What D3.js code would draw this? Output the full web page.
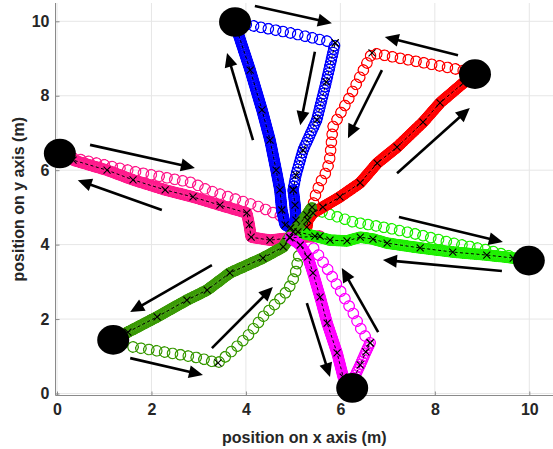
<!DOCTYPE html>
<html><head><meta charset="utf-8">
<script src="https://cdn.jsdelivr.net/npm/d3@7"></script>
<style>
body{margin:0;background:#fff}
svg{display:block}
text{font-family:"Liberation Sans",Arial,Helvetica,sans-serif;font-weight:bold;fill:#262626}
</style>
</head><body>
<svg id="c" width="553" height="449"></svg>
<script>
// ---- data (metres) ----
const xTicks = [0, 2, 4, 6, 8, 10];
const yTicks = [0, 2, 4, 6, 8, 10];
const xLabel = "position on x axis (m)";
const yLabel = "position on y axis (m)";

const seriesNames = ["blue", "red", "pink", "lime", "darkgreen", "magenta"];
const seriesColors = ["#0000ff", "#ff0000", "#ff1a8c", "#1ef000", "#3a9a05", "#ff00ff"];

const blueDense = [[3.81,9.77],[4.09,8.69],[4.34,7.62],[4.51,6.81],[4.64,6.00],[4.72,5.47],[4.76,4.93],[4.83,4.53],[4.95,4.45],[5.06,4.66],[5.04,5.06],[5.00,5.47]];
const blueMedium = [[5.00,5.47],[5.06,5.87],[5.21,6.54],[5.50,7.35],[5.70,8.37],[5.89,9.42]];
const blueSparse = [[3.85,9.95],[4.93,9.69],[5.85,9.43]];

const redDense = [[8.85,8.58],[8.60,8.34],[8.11,7.81],[7.75,7.29],[7.20,6.62],[6.78,6.19],[6.42,5.66],[5.99,5.28],[5.63,5.01],[5.42,4.85],[5.31,4.66],[5.29,4.47]];
const redSparse = [[8.60,8.68],[7.58,8.93],[6.67,9.15],[6.20,7.97],[5.84,7.16],[5.78,6.35],[5.72,6.00],[5.57,5.66],[5.46,5.28],[5.40,4.93]];

const pinkDense = [[0.06,6.45],[0.34,6.27],[1.06,6.00],[1.61,5.74],[2.29,5.47],[2.88,5.28],[3.45,5.06],[4.02,4.85],[4.07,4.53],[4.11,4.20],[4.51,4.12],[4.93,4.18],[5.57,4.23]];
const pinkSparse = [[0.34,6.33],[1.69,5.95],[2.88,5.66],[3.18,5.47],[4.30,5.01],[4.83,4.72]];

const limeDense = [[5.10,4.34],[5.46,4.23],[5.78,4.12],[6.14,4.10],[6.42,4.20],[6.69,4.15],[6.99,4.04],[7.69,3.91],[8.38,3.80],[9.10,3.72],[9.66,3.64],[9.99,3.57]];
const limeSparse = [[5.61,4.88],[6.27,4.61],[6.99,4.45],[7.69,4.26],[8.38,4.04],[9.10,3.86],[9.66,3.67]];

const darkGreenDense = [[1.19,1.44],[1.50,1.65],[2.12,2.06],[2.75,2.51],[3.18,2.78],[3.66,3.24],[4.36,3.64],[4.79,3.94],[5.00,4.34],[5.29,4.80],[5.40,5.01]];
const darkGreenSparse = [[1.61,1.25],[2.39,1.09],[3.03,0.95],[3.41,0.82],[3.66,1.09],[4.02,1.52],[4.36,2.06],[4.66,2.46],[4.89,2.78],[5.04,3.18],[5.10,3.59],[5.15,3.91]];

const magentaDense = [[6.25,0.15],[6.06,0.44],[5.93,1.09],[5.72,1.89],[5.57,2.59],[5.42,3.24],[5.31,3.67],[5.15,3.99],[4.93,4.20]];
const magentaMedium = [[6.29,0.42],[6.42,0.77],[6.54,1.12],[6.63,1.36]];
const magentaSparse = [[6.63,1.36],[6.48,1.62],[6.27,2.16],[5.99,2.78],[5.78,3.24],[5.51,3.77],[5.36,4.04]];

const cornerMarks = [[5.89,9.42],[6.67,9.15],[3.41,0.82],[6.63,1.36]];

// robots (start positions)
const robotX = [3.77, 8.85, 0.06, 9.99, 1.19, 6.25];
const robotY = [9.98, 8.58, 6.45, 3.57, 1.44, 0.15];

// direction arrows: [x0, y0, x1, y1]
const arrows = [
  [4.19,10.41, 5.82,9.95],
  [5.46,9.18, 5.15,7.21],
  [4.15,6.81, 3.60,9.15],
  [8.49,9.09, 6.94,9.58],
  [6.88,8.69, 6.16,6.86],
  [7.20,5.92, 8.74,7.67],
  [0.70,6.68, 2.92,6.06],
  [2.22,4.93, 0.44,5.73],
  [7.24,4.74, 9.44,4.07],
  [9.42,3.29, 6.90,3.59],
  [3.28,3.45, 1.55,2.19],
  [1.55,0.95, 3.09,0.50],
  [3.28,1.22, 4.57,2.86],
  [5.29,2.43, 5.78,0.44],
  [6.80,1.65, 6.03,3.37]
];

// ---- build ----
const denseSets = [
  {c:0, pts:blueDense, sp:2, solid:true}, {c:0, pts:blueMedium, sp:3.5, solid:false}, {c:1, pts:redDense, sp:2, solid:true},
  {c:2, pts:pinkDense, sp:2, solid:true}, {c:3, pts:limeDense, sp:2, solid:true}, {c:4, pts:darkGreenDense, sp:2, solid:true},
  {c:5, pts:magentaDense, sp:2, solid:true}, {c:5, pts:magentaMedium, sp:3, solid:false}
];
const sparseSets = [
  {c:0, pts:blueSparse, sp:7.5}, {c:1, pts:redSparse, sp:8}, {c:2, pts:pinkSparse, sp:8},
  {c:3, pts:limeSparse, sp:8}, {c:4, pts:darkGreenSparse, sp:8}, {c:5, pts:magentaSparse, sp:8.5}
];

const W = 553, H = 449;
const axLeft = 55.5, axBottom = 395.5, axTop = 3, axRight = 553;
const x = d3.scaleLinear().domain([0, 10]).range([57, 529.3]);
const y = d3.scaleLinear().domain([0, 10]).range([393.5, 21.3]);

const svg = d3.select("#c");
const defs = svg.append("defs");
const line = d3.line().x(d => x(d[0])).y(d => y(d[1]));

// grid
const grid = svg.append("g");
grid.selectAll(".gx").data(xTicks).join("line")
  .attr("x1", d => x(d)).attr("x2", d => x(d)).attr("y1", axTop).attr("y2", axBottom)
  .attr("stroke", "#e6e6e6").attr("stroke-width", 1);
grid.selectAll(".gy").data(yTicks).join("line")
  .attr("y1", d => y(d)).attr("y2", d => y(d)).attr("x1", axLeft).attr("x2", axRight)
  .attr("stroke", "#e6e6e6").attr("stroke-width", 1);

// axes
const xAxis = svg.append("g").attr("transform", `translate(0,${axBottom})`)
  .call(d3.axisBottom(x).tickValues(xTicks).tickFormat(d3.format("d")).tickSize(-4).tickPadding(8));
const yAxis = svg.append("g").attr("transform", `translate(${axLeft},0)`)
  .call(d3.axisLeft(y).tickValues(yTicks).tickFormat(d3.format("d")).tickSize(-4).tickPadding(6));
[xAxis, yAxis].forEach(a => {
  a.select(".domain").remove();
  a.selectAll(".tick line").attr("stroke", "#8a8a8a");
  a.selectAll(".tick text").attr("font-size", 16).attr("fill", "#262626")
    .style("font-family", '"Liberation Sans",Arial,Helvetica,sans-serif').style("font-weight", "bold");
});
svg.append("line").attr("x1", axLeft).attr("x2", axLeft).attr("y1", axTop).attr("y2", axBottom)
  .attr("stroke", "#8a8a8a").attr("stroke-width", 1);
svg.append("line").attr("x1", axLeft).attr("x2", axRight).attr("y1", axBottom).attr("y2", axBottom)
  .attr("stroke", "#8a8a8a").attr("stroke-width", 1);

svg.append("text").attr("x", (axLeft + axRight) / 2).attr("y", 443)
  .attr("text-anchor", "middle").attr("font-size", 16).text(xLabel);
svg.append("text").attr("transform", `translate(24,${(axTop + axBottom) / 2}) rotate(-90)`)
  .attr("text-anchor", "middle").attr("font-size", 16).text(yLabel);

// open-circle marker tracks, drawn as interleaved dotted layers each masked into rings
const plot = svg.append("g");
let maskId = 0;
const OUT = 12, IN = 9.2;
function ringTrack(pts, color, sp) {
  const d = line(pts);
  const n = Math.max(1, Math.ceil((OUT + 0.5) / sp));
  const period = sp * n;
  const dash = `0.01 ${period - 0.01}`;
  for (let k = 0; k < n; k++) {
    const id = "m" + (maskId++);
    const off = -k * sp;
    const m = defs.append("mask").attr("id", id).attr("maskUnits", "userSpaceOnUse")
      .attr("x", 0).attr("y", 0).attr("width", W).attr("height", H);
    m.append("path").attr("d", d).attr("fill", "none").attr("stroke", "#fff").attr("stroke-width", OUT)
      .attr("stroke-linecap", "round").attr("stroke-dasharray", dash).attr("stroke-dashoffset", off);
    m.append("path").attr("d", d).attr("fill", "none").attr("stroke", "#000").attr("stroke-width", IN)
      .attr("stroke-linecap", "round").attr("stroke-dasharray", dash).attr("stroke-dashoffset", off);
    plot.append("path").attr("d", d).attr("fill", "none").attr("stroke", color)
      .attr("stroke-width", OUT).attr("stroke-linecap", "round").attr("stroke-dasharray", dash)
      .attr("stroke-dashoffset", off).attr("mask", `url(#${id})`);
  }
}
sparseSets.forEach(s => ringTrack(s.pts, seriesColors[s.c], s.sp));
denseSets.forEach(s => {
  if (s.solid) {
    plot.append("path").attr("d", line(s.pts)).attr("fill", "none").attr("stroke", seriesColors[s.c])
      .attr("stroke-width", 10).attr("stroke-linecap", "round").attr("stroke-linejoin", "round")
      .attr("stroke-opacity", 0.8);
  }
  ringTrack(s.pts, seriesColors[s.c], s.sp);
});

// black dashed reference lines with x markers
denseSets.forEach(s => {
  plot.append("path").attr("d", line(s.pts)).attr("fill", "none").attr("stroke", "#000")
    .attr("stroke-width", 1).attr("stroke-dasharray", "3 2.5");
});
const allMarks = denseSets.flatMap(s => s.pts).concat(cornerMarks);
plot.selectAll(".xm").data(allMarks).join("path")
  .attr("d", d => {
    const px = x(d[0]), py = y(d[1]), r = 3.5;
    return `M${px - r},${py - r}L${px + r},${py + r}M${px - r},${py + r}L${px + r},${py - r}`;
  })
  .attr("stroke", "#000").attr("stroke-width", 1.1).attr("fill", "none");

// robots
svg.append("g").selectAll("ellipse").data(robotX).join("ellipse")
  .attr("cx", d => x(d)).attr("cy", (d, i) => y(robotY[i]))
  .attr("rx", 16).attr("ry", 14.8).attr("fill", "#000");

// arrows
const ag = svg.append("g");
arrows.forEach(a => {
  const x0 = x(a[0]), y0 = y(a[1]), x1 = x(a[2]), y1 = y(a[3]);
  const dx = x1 - x0, dy = y1 - y0, len = Math.hypot(dx, dy);
  const ux = dx / len, uy = dy / len, L = 14, hw = 6.5;
  const bx = x1 - ux * L, by = y1 - uy * L;
  ag.append("line").attr("x1", x0).attr("y1", y0).attr("x2", bx + ux * 1).attr("y2", by + uy * 1)
    .attr("stroke", "#000").attr("stroke-width", 2.6);
  ag.append("path").attr("d",
    `M${x1},${y1}L${bx - uy * hw},${by + ux * hw}L${bx + uy * hw},${by - ux * hw}Z`)
    .attr("fill", "#000");
});
</script>
</body></html>
